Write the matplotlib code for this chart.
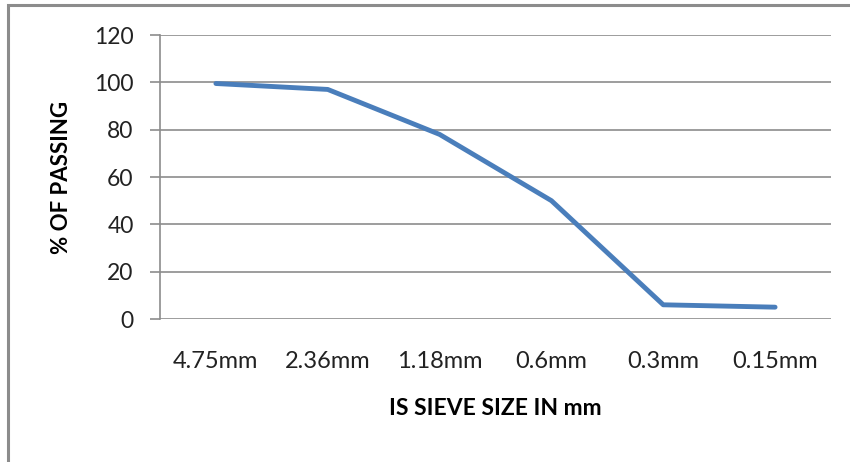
import matplotlib
matplotlib.use("Agg")
import matplotlib.pyplot as plt
from matplotlib.patches import Rectangle

sizes = ["4.75mm", "2.36mm", "1.18mm", "0.6mm", "0.3mm", "0.15mm"]
passing = [99.5, 97, 78, 50, 6, 5]
yticks = [0, 20, 40, 60, 80, 100, 120]

W, H = 850, 462
fig = plt.figure(figsize=(W / 100, H / 100), dpi=100)
fam = ["Lato", "DejaVu Sans"]

ax = fig.add_axes([160 / W, 1 - 319 / H, (831 - 160) / W, (319 - 35) / H])
x = list(range(len(sizes)))
ax.plot(x, passing, color="#4a7ebb", lw=3.5, solid_capstyle="round", solid_joinstyle="round", zorder=3)
ax.set_xlim(-0.5, len(sizes) - 0.5)
ax.set_ylim(0, 120)
ax.set_yticks(yticks)
ax.set_yticklabels([str(v) for v in yticks], family=fam, fontsize=16.5, color="#222222")
ax.set_xticks(x)
ax.set_xticklabels(sizes, family=fam, fontsize=17, color="#222222")
ax.grid(axis="y", color="#8c8c8c", lw=1.2)
ax.set_axisbelow(True)
for s in ["top", "right", "bottom"]:
    ax.spines[s].set_visible(False)
ax.spines["left"].set_color("#8c8c8c")
ax.spines["left"].set_linewidth(1.2)
ax.tick_params(axis="y", length=7, width=1.2, color="#8c8c8c", pad=12)
ax.tick_params(axis="x", length=0, pad=23)
ax.set_ylabel("% OF PASSING", family=fam, fontsize=16, fontweight="bold", labelpad=16)
ax.set_xlabel("IS SIEVE SIZE IN mm", family=fam, fontsize=16.5, fontweight="bold", labelpad=19)

fig.patches.append(Rectangle((8 / W, -0.05), 1.0, 1 - 5 / H + 0.05, transform=fig.transFigure,
                             fill=False, edgecolor="#8c8c8c", lw=2.2))

fig.savefig("out.png", dpi=100)
